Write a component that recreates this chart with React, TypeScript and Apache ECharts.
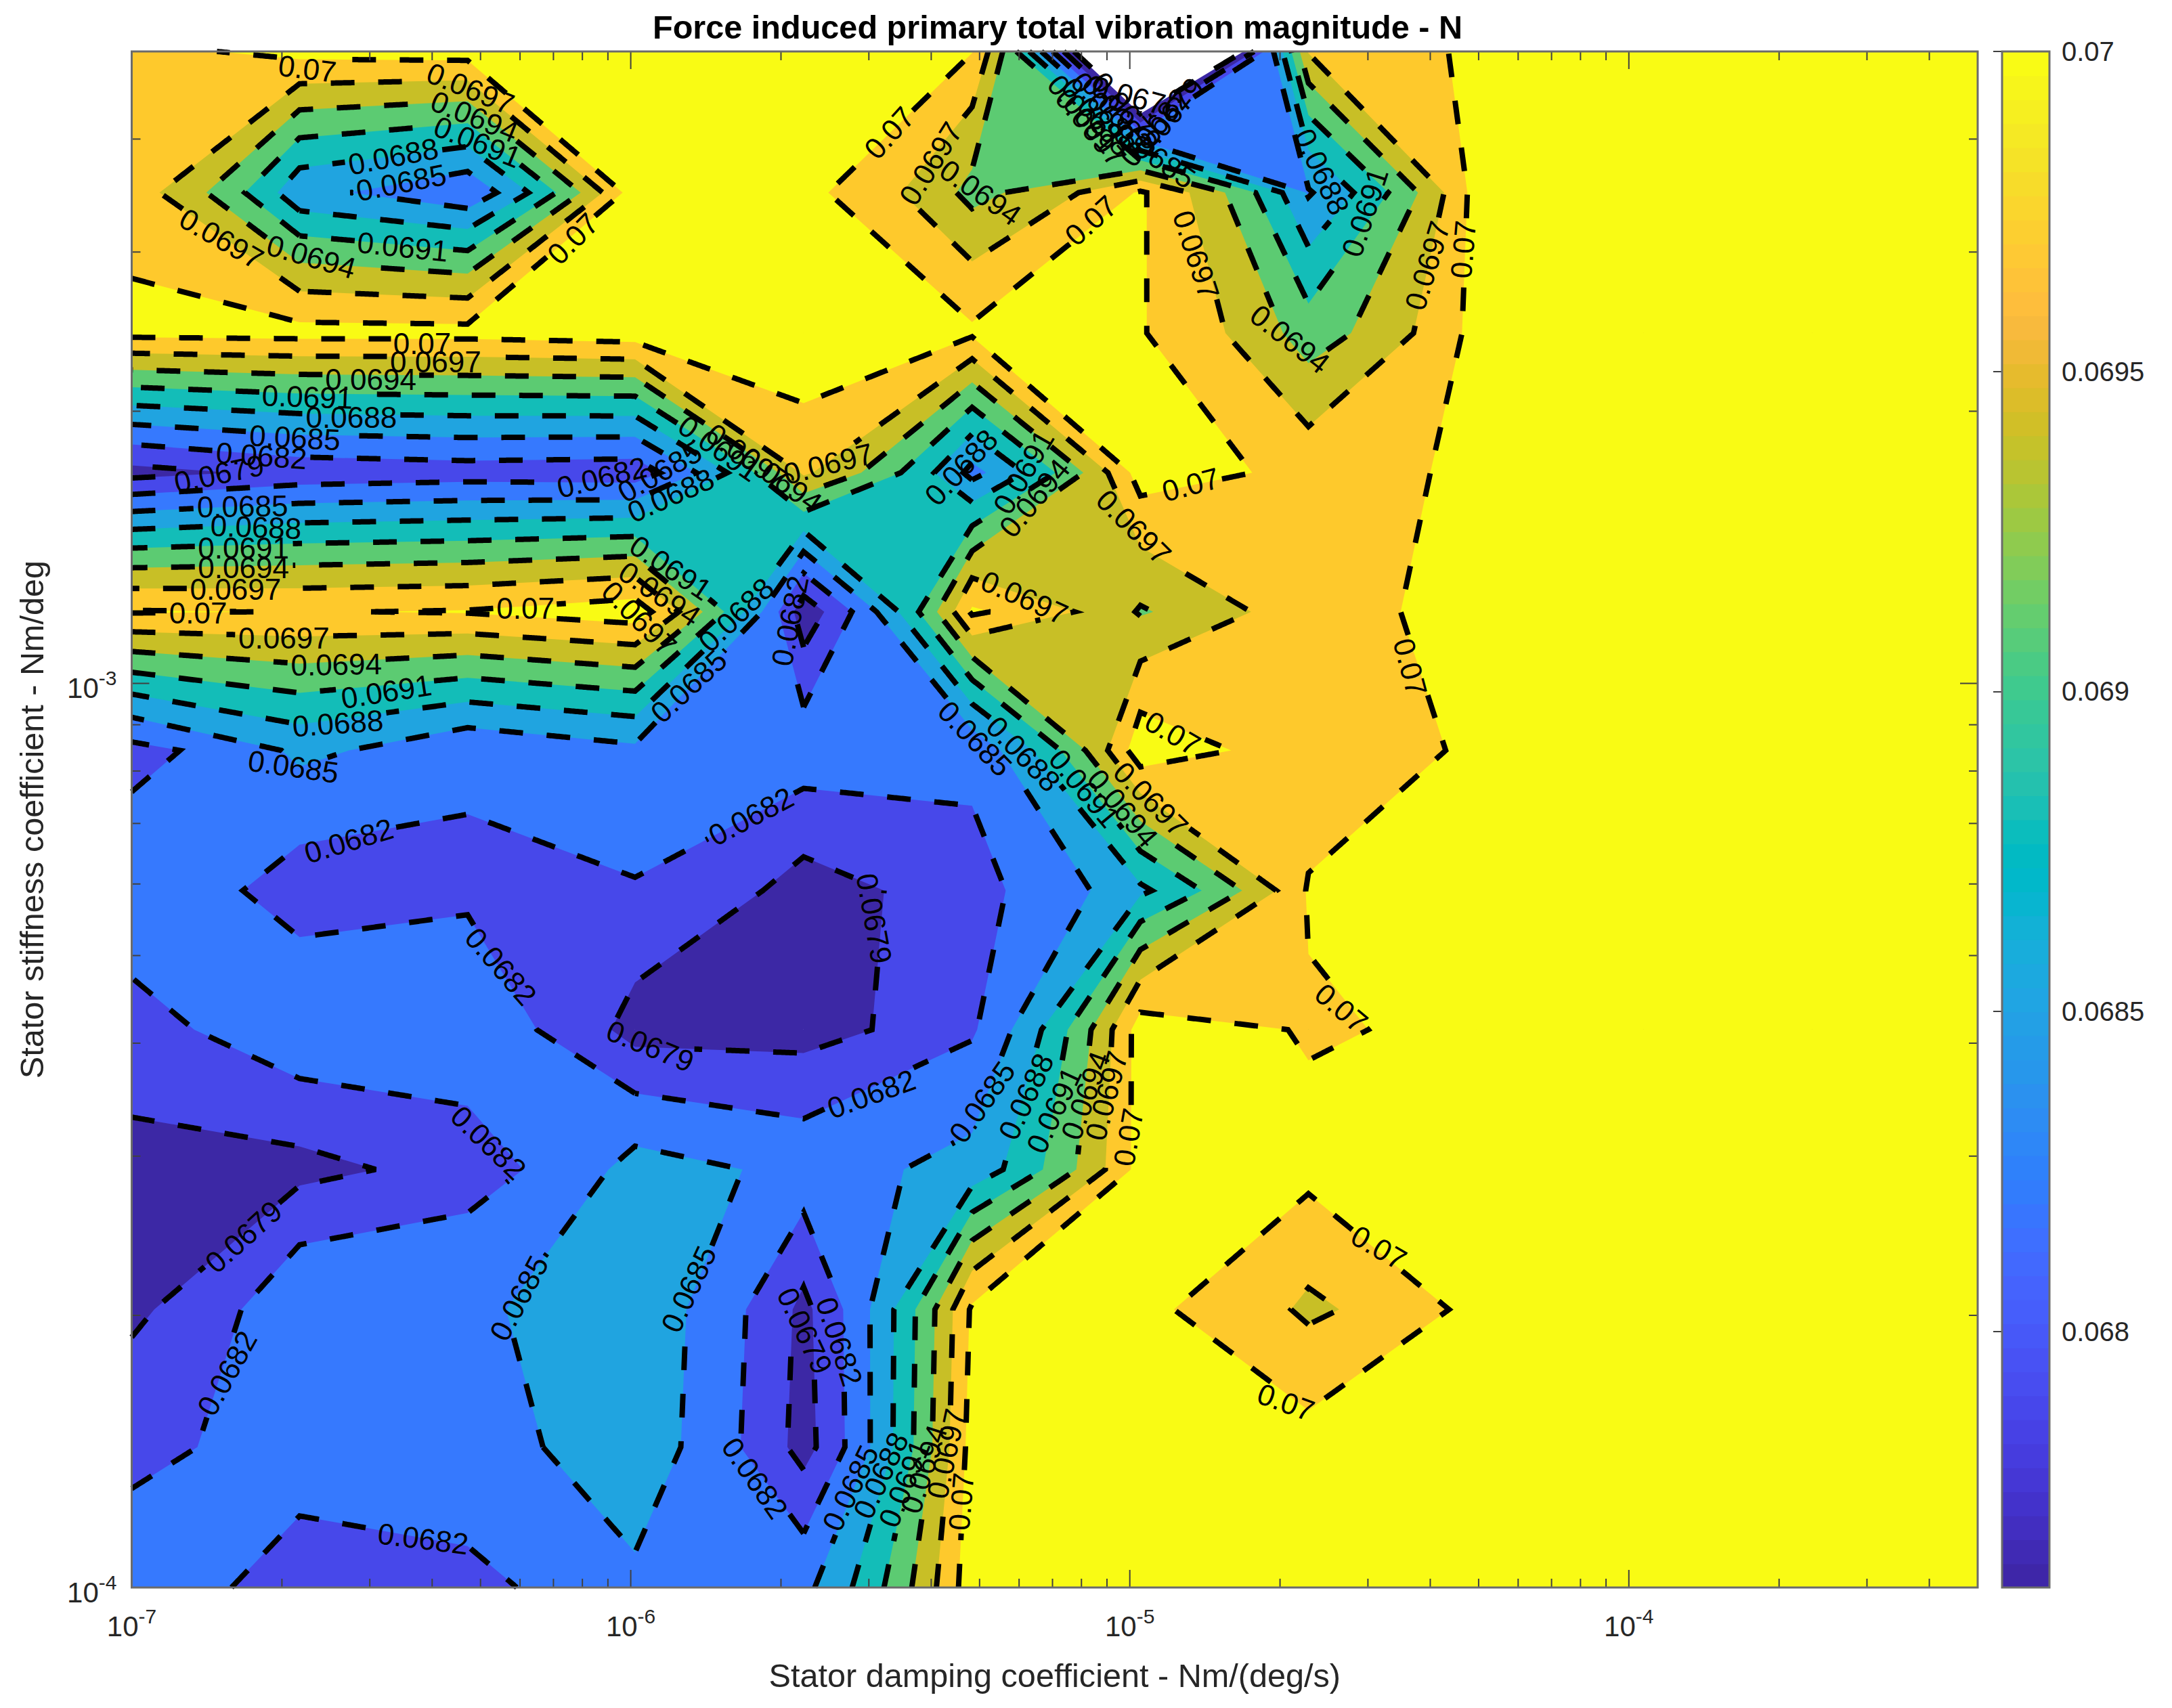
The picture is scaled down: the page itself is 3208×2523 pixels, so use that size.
import React, { useEffect, useRef } from "react";
import * as echarts from "echarts";

const FONT = "'Liberation Sans', Arial, sans-serif";

const TITLE = "Force induced primary total vibration magnitude - N";
const X_NAME = "Stator damping coefficient - Nm/(deg/s)";
const Y_NAME = "Stator stiffness coefficient - Nm/deg";

const xGrid = [1e-7, 2.17e-7, 4.71e-7, 1.02e-6, 2.22e-6, 4.83e-6, 1.05e-5, 2.28e-5, 4.94e-5, 1.07e-4, 2.33e-4, 5e-4];
const yGrid = [1e-4, 1.43e-4, 2.03e-4, 2.9e-4, 4.14e-4, 5.9e-4, 8.43e-4, 1.2e-3, 1.71e-3, 2.44e-3, 3.49e-3, 5e-3];

// One row per stiffness value, lowest first; one column per damping value.
const row0 = [0.0684, 0.068, 0.06813, 0.06845, 0.06842, 0.0702, 0.0705, 0.0705, 0.0706, 0.0706, 0.0707, 0.0707];
const row1 = [0.0681, 0.06843, 0.0684, 0.06868, 0.06778, 0.07013, 0.0705, 0.07011, 0.0705, 0.0706, 0.0706, 0.0707];
const row2 = [0.06784, 0.06848, 0.06846, 0.0687, 0.06782, 0.07005, 0.07006, 0.06964, 0.0701, 0.0705, 0.0706, 0.0706];
const row3 = [0.0678, 0.06781, 0.06806, 0.06862, 0.0684, 0.0686, 0.07012, 0.07009, 0.0705, 0.0705, 0.0706, 0.0706];
const row4 = [0.0681, 0.06845, 0.0684, 0.06778, 0.06778, 0.06816, 0.07015, 0.06997, 0.07008, 0.0705, 0.0705, 0.0706];
const row5 = [0.0684, 0.06805, 0.06815, 0.06818, 0.06777, 0.06811, 0.06874, 0.07003, 0.0705, 0.0705, 0.0706, 0.0706];
const row6 = [0.0681, 0.06857, 0.06825, 0.06843, 0.06839, 0.06827, 0.0702, 0.06975, 0.07008, 0.0705, 0.0705, 0.0706];
const row7 = [0.07002, 0.06999, 0.07002, 0.07017, 0.0677, 0.07005, 0.06937, 0.06995, 0.07006, 0.0704, 0.0705, 0.0705];
const row8 = [0.0678, 0.068, 0.06805, 0.06802, 0.06975, 0.0684, 0.07015, 0.06989, 0.07006, 0.0704, 0.0705, 0.0705];
const row9 = [0.07008, 0.0701, 0.0701, 0.07016, 0.0703, 0.07005, 0.07002, 0.06924, 0.0701, 0.0704, 0.0705, 0.0705];
const row10 = [0.06985, 0.06857, 0.06826, 0.0702, 0.07008, 0.0693, 0.07004, 0.06847, 0.07012, 0.0704, 0.0704, 0.0705];
const row11 = [0.06993, 0.0701, 0.07014, 0.0704, 0.0705, 0.07001, 0.0653, 0.06972, 0.07008, 0.0703, 0.0704, 0.0705];
const zValues = [row0, row1, row2, row3, row4, row5, row6, row7, row8, row9, row10, row11];

const levels = [0.0676, 0.0679, 0.0682, 0.0685, 0.0688, 0.0691, 0.0694, 0.0697, 0.07];
const bandColors = ["#3C28A5", "#4748EA", "#3679FE", "#20A4E0", "#13BDB8", "#5CCB72", "#C8BF26", "#FEC92C", "#F9FB14"];

const colorbarTicks = [0.068, 0.0685, 0.069, 0.0695, 0.07];
const xMajorTicks = [1e-6, 1e-5, 1e-4];
const xMinorTicks = [
  2e-7, 3e-7, 4e-7, 5e-7, 6e-7, 7e-7, 8e-7, 9e-7,
  2e-6, 3e-6, 4e-6, 5e-6, 6e-6, 7e-6, 8e-6, 9e-6,
  2e-5, 3e-5, 4e-5, 5e-5, 6e-5, 7e-5, 8e-5, 9e-5,
  2e-4, 3e-4, 4e-4,
];
const yMajorTicks = [1e-3];
const yMinorTicks = [2e-4, 3e-4, 4e-4, 5e-4, 6e-4, 7e-4, 8e-4, 9e-4, 2e-3, 3e-3, 4e-3];

// level text, log10(x), log10(y), angle in degrees
const contourLabels: [string, number, number, number][] = [
  ["0.07", -6.648, -2.32, -7], ["0.0697", -6.321, -2.342, -22], ["0.0694", -6.313, -2.373, -22], ["0.0691", -6.307, -2.401, -22],
  ["0.0688", -6.476, -2.417, 11], ["0.0685", -6.46, -2.446, 11], ["0.0691", -6.457, -2.517, -6], ["0.0694", -6.64, -2.528, -16],
  ["0.0697", -6.82, -2.508, -30], ["0.07", -6.116, -2.508, 45], ["0.07", -6.418, -2.624, 0], ["0.0697", -6.391, -2.644, 0],
  ["0.0694", -6.521, -2.664, 0], ["0.0691", -6.648, -2.683, -2], ["0.0688", -6.56, -2.706, 0], ["0.0685", -6.673, -2.728, -3],
  ["0.0682", -6.74, -2.748, -4], ["0.0679", -6.825, -2.768, 12], ["0.0685", -6.778, -2.804, 1], ["0.0688", -6.751, -2.827, -2],
  ["0.0691", -6.776, -2.85, 0], ["0.0694", -6.776, -2.872, 0], ["0.0697", -6.792, -2.896, 0], ["0.07", -6.867, -2.922, 0],
  ["0.07", -6.211, -2.917, 0], ["0.0697", -6.695, -2.95, 0], ["0.0694", -6.59, -2.979, 1], ["0.0691", -6.49, -3.009, 9],
  ["0.0688", -6.587, -3.044, 4], ["0.0685", -6.676, -3.092, -8], ["0.0682", -6.058, -2.772, 14], ["0.0685", -5.942, -2.766, 30],
  ["0.0688", -5.92, -2.792, 24], ["0.0691", -5.823, -2.74, -35], ["0.0697", -5.767, -2.749, -35], ["0.0694", -5.698, -2.775, -35],
  ["0.0697", -5.604, -2.757, 14], ["0.0691", -5.92, -2.872, -34], ["0.0694", -5.942, -2.901, -34], ["0.0697", -5.983, -2.928, -45],
  ["0.0688", -5.789, -2.924, 44], ["0.0685", -5.884, -3.003, 43], ["0.0682", -5.681, -2.931, 79], ["0.0688", -5.338, -2.761, 47],
  ["0.0691", -5.213, -2.766, 60], ["0.0694", -5.191, -2.795, 50], ["0.0697", -4.992, -2.827, -45], ["0.0697", -5.211, -2.905, -24],
  ["0.07", -4.878, -2.78, 15], ["0.07", -4.914, -3.055, -30], ["0.0685", -5.31, -3.061, -46], ["0.0688", -5.213, -3.078, -46],
  ["0.0691", -5.091, -3.116, -50], ["0.0694", -5.014, -3.138, -50], ["0.0697", -4.958, -3.128, -45], ["0.0682", -5.759, -3.147, 28],
  ["0.0679", -5.512, -3.26, -80], ["0.0682", -6.565, -3.174, 17], ["0.0682", -6.26, -3.313, -49], ["0.0682", -6.285, -3.508, -44],
  ["0.0679", -5.961, -3.401, -22], ["0.0682", -5.518, -3.454, 20], ["0.0685", -5.296, -3.463, 55], ["0.0688", -5.208, -3.457, 65],
  ["0.0691", -5.152, -3.472, 65], ["0.0694", -5.089, -3.456, 70], ["0.0697", -5.047, -3.456, 75], ["0.07", -5.003, -3.502, 80],
  ["0.0679", -6.776, -3.612, 42], ["0.0682", -6.809, -3.763, 61], ["0.0685", -6.224, -3.68, 62], ["0.0685", -5.884, -3.67, 65],
  ["0.0682", -6.416, -3.946, -7], ["0.0682", -5.751, -3.879, -55], ["0.0679", -5.651, -3.716, -65], ["0.0682", -5.582, -3.728, -72],
  ["0.0685", -5.56, -3.89, 64], ["0.0688", -5.499, -3.876, 65], ["0.0691", -5.452, -3.885, 68], ["0.0694", -5.413, -3.869, 72],
  ["0.0697", -5.368, -3.852, 78], ["0.07", -5.338, -3.905, 85], ["0.07", -5.482, -2.391, 48], ["0.0697", -5.399, -2.425, 58],
  ["0.0694", -5.299, -2.457, -35], ["0.07", -5.078, -2.488, 42], ["0.0697", -4.867, -2.526, -72], ["0.0694", -4.679, -2.619, -38],
  ["0.0688", -4.615, -2.434, -65], ["0.0691", -4.529, -2.479, 72], ["0.0697", -4.404, -2.538, 73], ["0.07", -4.332, -2.52, 85],
  ["0.07", -4.576, -3.359, -40], ["0.07", -4.501, -3.624, -30], ["0.07", -4.687, -3.795, -20], ["0.07", -4.438, -2.982, -75],
  ["0.0697", -5.078, -2.385, -50], ["0.0685", -4.95, -2.416, -35], ["0.0691", -5.094, -2.37, -50], ["0.0688", -5.066, -2.373, -50],
  ["0.0685", -5.047, -2.367, -50], ["0.0682", -5.025, -2.37, -50], ["0.0679", -5.006, -2.367, -50], ["0.0676", -4.986, -2.352, -15],
  ["0.0679", -4.922, -2.373, 50], ["0.0682", -4.95, -2.385, 50],
];

const parula = [
  [0.2422, 0.1504, 0.6603], [0.2504, 0.165, 0.7076], [0.2578, 0.1818, 0.7511], [0.2647, 0.1978, 0.7952], [0.2706, 0.2147, 0.8364], [0.2751, 0.2342, 0.871], [0.2783, 0.2559, 0.8991], [0.2803, 0.2782, 0.9221],
  [0.2813, 0.3006, 0.9414], [0.281, 0.3228, 0.9579], [0.2795, 0.3447, 0.9717], [0.276, 0.3667, 0.9829], [0.2699, 0.3892, 0.9906], [0.2602, 0.4123, 0.9952], [0.244, 0.4358, 0.9988], [0.2206, 0.4603, 0.9973],
  [0.1963, 0.4847, 0.9892], [0.1834, 0.5074, 0.9798], [0.1786, 0.5289, 0.9682], [0.1764, 0.5499, 0.952], [0.1687, 0.5703, 0.9359], [0.154, 0.5902, 0.9218], [0.146, 0.6091, 0.9079], [0.138, 0.6276, 0.8973],
  [0.1248, 0.6459, 0.8883], [0.1113, 0.6635, 0.8763], [0.0952, 0.6798, 0.8598], [0.0689, 0.6948, 0.8394], [0.0297, 0.7082, 0.8163], [0.0036, 0.7203, 0.7917], [0.0067, 0.7312, 0.766], [0.0433, 0.7411, 0.7394],
  [0.0964, 0.75, 0.712], [0.1408, 0.7584, 0.6842], [0.1717, 0.767, 0.6554], [0.1938, 0.7758, 0.6251], [0.2161, 0.7843, 0.5923], [0.247, 0.7918, 0.5567], [0.2906, 0.7973, 0.5188], [0.3406, 0.8008, 0.4789],
  [0.3909, 0.8029, 0.4354], [0.4456, 0.8024, 0.3909], [0.5044, 0.7993, 0.348], [0.5616, 0.7942, 0.3045], [0.6174, 0.7876, 0.2612], [0.672, 0.7793, 0.2227], [0.7242, 0.7698, 0.191], [0.7738, 0.7598, 0.1646],
  [0.8203, 0.7498, 0.1535], [0.8634, 0.7406, 0.1596], [0.9035, 0.733, 0.1774], [0.9393, 0.7288, 0.21], [0.9728, 0.7298, 0.2394], [0.9956, 0.7434, 0.2371], [0.997, 0.7659, 0.2199], [0.9952, 0.7893, 0.2028],
  [0.9892, 0.8136, 0.1885], [0.9786, 0.8386, 0.1766], [0.9676, 0.8639, 0.1643], [0.961, 0.889, 0.1537], [0.9597, 0.9135, 0.1423], [0.9628, 0.9373, 0.1265], [0.9691, 0.9606, 0.1064], [0.9769, 0.9839, 0.0805],
];

const CB_MIN = 0.0676;
const CB_MAX = 0.07;

type Pt = [number, number];

// Marching squares on the grid, interpolating in data space.
function contourGeometry(level: number) {
  const polys: Pt[][] = [];
  const segs: { a: string; b: string; pa: Pt; pb: Pt }[] = [];
  const cross = (i1: number, j1: number, i2: number, j2: number): { k: string; p: Pt } => {
    const v1 = zValues[j1][i1];
    const v2 = zValues[j2][i2];
    const t = (level - v1) / (v2 - v1);
    const k = i1 < i2 || j1 < j2 ? `${i1},${j1},${i2},${j2}` : `${i2},${j2},${i1},${j1}`;
    return { k, p: [xGrid[i1] + t * (xGrid[i2] - xGrid[i1]), yGrid[j1] + t * (yGrid[j2] - yGrid[j1])] };
  };
  for (let j = 0; j < yGrid.length - 1; j++) {
    for (let i = 0; i < xGrid.length - 1; i++) {
      const c = [[i, j], [i + 1, j], [i + 1, j + 1], [i, j + 1]];
      const vals = c.map(([a, b]) => zValues[b][a]);
      const ins = vals.map((v) => v >= level);
      const n = ins.filter(Boolean).length;
      if (n === 0) continue;
      const saddle = n === 2 && ins[0] === ins[2];
      const centre = (vals[0] + vals[1] + vals[2] + vals[3]) / 4;
      const corner = (k: number): Pt => [xGrid[c[k][0]], yGrid[c[k][1]]];
      if (saddle && centre < level) {
        for (let k = 0; k < 4; k++) {
          if (!ins[k]) continue;
          const nx = (k + 1) % 4;
          const pv = (k + 3) % 4;
          const a = cross(c[k][0], c[k][1], c[nx][0], c[nx][1]);
          const b = cross(c[pv][0], c[pv][1], c[k][0], c[k][1]);
          polys.push([corner(k), a.p, b.p]);
          segs.push({ a: a.k, b: b.k, pa: a.p, pb: b.p });
        }
        continue;
      }
      const poly: Pt[] = [];
      const events: { out: boolean; k: string; p: Pt }[] = [];
      for (let k = 0; k < 4; k++) {
        const nx = (k + 1) % 4;
        if (ins[k]) poly.push(corner(k));
        if (ins[k] !== ins[nx]) {
          const e = cross(c[k][0], c[k][1], c[nx][0], c[nx][1]);
          poly.push(e.p);
          events.push({ out: ins[k], k: e.k, p: e.p });
        }
      }
      polys.push(poly);
      events.forEach((e, idx) => {
        if (!e.out) return;
        const f = events[(idx + 1) % events.length];
        segs.push({ a: e.k, b: f.k, pa: e.p, pb: f.p });
      });
    }
  }
  // chain segments into polylines
  const byKey: Record<string, number[]> = {};
  segs.forEach((s, idx) => {
    (byKey[s.a] = byKey[s.a] || []).push(idx);
    (byKey[s.b] = byKey[s.b] || []).push(idx);
  });
  const used = segs.map(() => false);
  const lines: Pt[][] = [];
  const walk = (start: number, fromKey: string) => {
    const line: Pt[] = [];
    let cur = start;
    let key = fromKey;
    let s = segs[cur];
    line.push(s.a === key ? s.pa : s.pb);
    while (cur >= 0 && !used[cur]) {
      used[cur] = true;
      s = segs[cur];
      const nextKey = s.a === key ? s.b : s.a;
      line.push(s.a === key ? s.pb : s.pa);
      key = nextKey;
      const cands = byKey[key].filter((q) => !used[q]);
      cur = cands.length ? cands[0] : -1;
    }
    lines.push(line);
  };
  Object.keys(byKey).forEach((k) => {
    if (byKey[k].length === 1 && !used[byKey[k][0]]) walk(byKey[k][0], k);
  });
  segs.forEach((s, idx) => {
    if (!used[idx]) walk(idx, s.a);
  });
  return { polys, lines };
}

const geometry = levels.map(contourGeometry);

const LABEL_FONT = 44;
const labelHalfWidth = (t: string) => (t.length === 4 ? 46 : 71);

function breakLine(px: Pt[], boxes: { x: number; y: number; cos: number; sin: number; hw: number }[]): Pt[][] {
  const out: Pt[][] = [];
  let cur: Pt[] = [];
  const inside = (p: Pt) =>
    boxes.some((b) => {
      const dx = p[0] - b.x;
      const dy = p[1] - b.y;
      const u = dx * b.cos + dy * b.sin;
      const v = -dx * b.sin + dy * b.cos;
      return Math.abs(u) < b.hw && Math.abs(v) < 20;
    });
  for (let i = 0; i + 1 < px.length; i++) {
    const [x1, y1] = px[i];
    const [x2, y2] = px[i + 1];
    const len = Math.hypot(x2 - x1, y2 - y1);
    const steps = Math.max(1, Math.ceil(len / 2));
    for (let s = 0; s <= steps; s++) {
      if (s === 0 && i > 0) continue;
      const t = s / steps;
      const p: Pt = [x1 + t * (x2 - x1), y1 + t * (y2 - y1)];
      if (inside(p)) {
        if (cur.length > 1) out.push(cur);
        cur = [];
      } else {
        cur.push(p);
      }
    }
  }
  if (cur.length > 1) out.push(cur);
  return out;
}

export default function App() {
  const ref = useRef<HTMLDivElement>(null);
  useEffect(() => {
    const chart = echarts.init(ref.current!, undefined, { renderer: "svg" });
    const tickLabel = (v: number) => {
      const e = Math.log10(v);
      if (Math.abs(e - Math.round(e)) > 1e-6) return "";
      return `{b|10}{s|${Math.round(e)}}`;
    };
    const richTick = {
      b: { fontSize: 42, fontFamily: FONT, color: "#262626", padding: [14, 0, 0, 0] },
      s: { fontSize: 30, fontFamily: FONT, color: "#262626", padding: [0, 0, 16, 0] },
    };
    const xMin = xGrid[0];
    const yMin = yGrid[0];
    const levelData = levels.map((_, i) => [xMin, yMin, i]);
    const tickData = [
      ...xMajorTicks.map((v) => [v, yMin, 0, 26]),
      ...xMinorTicks.map((v) => [v, yMin, 0, 13]),
      ...yMajorTicks.map((v) => [xMin, v, 1, 26]),
      ...yMinorTicks.map((v) => [xMin, v, 1, 13]),
    ];
    const option: any = {
      animation: false,
      backgroundColor: "#ffffff",
      title: {
        text: TITLE,
        left: 1557,
        top: 10,
        textAlign: "center",
        textStyle: { fontSize: 48.6, fontWeight: "bold", fontFamily: FONT, color: "#000000" },
      },
      grid: [
        { left: 194.5, top: 76, width: 2726.5, height: 2269 },
        { left: 2957, top: 76, width: 70, height: 2269 },
      ],
      xAxis: [
        {
          type: "log", gridIndex: 0, min: 1e-7, max: 5e-4, logBase: 10,
          name: X_NAME, nameLocation: "middle", nameGap: 105,
          nameTextStyle: { fontSize: 48.6, fontFamily: FONT, color: "#262626" },
          axisLine: { show: false }, axisTick: { show: false }, splitLine: { show: false }, minorTick: { show: false },
          axisLabel: { formatter: tickLabel, rich: richTick, margin: 22, showMinLabel: true, showMaxLabel: true, hideOverlap: false },
        },
        { type: "value", gridIndex: 1, min: 0, max: 1, show: false },
      ],
      yAxis: [
        {
          type: "log", gridIndex: 0, min: 1e-4, max: 5e-3, logBase: 10,
          name: Y_NAME, nameLocation: "middle", nameGap: 123,
          nameTextStyle: { fontSize: 48.6, fontFamily: FONT, color: "#262626" },
          axisLine: { show: false }, axisTick: { show: false }, splitLine: { show: false }, minorTick: { show: false },
          axisLabel: { formatter: tickLabel, rich: richTick, margin: 22, showMinLabel: true, showMaxLabel: true, hideOverlap: false },
        },
        {
          type: "value", gridIndex: 1, min: CB_MIN, max: CB_MAX, position: "right",
          axisLine: { show: false }, splitLine: { show: false },
          axisTick: { show: true, inside: true, length: 13, customValues: colorbarTicks, lineStyle: { color: "#404040", width: 2 } },
          axisLabel: {
            customValues: colorbarTicks, margin: 18, fontSize: 40, fontFamily: FONT, color: "#262626",
            formatter: (v: number) => String(Number(v.toFixed(4))),
          },
        },
      ],
      series: [
        {
          type: "custom", name: "bands", xAxisIndex: 0, yAxisIndex: 0, silent: true, z: 1,
          encode: { x: 0, y: 1 }, data: levelData,
          renderItem: (_p: any, api: any) => {
            const idx = api.value(2);
            let d = "";
            geometry[idx].polys.forEach((poly) => {
              poly.forEach((pt, q) => {
                const c = api.coord(pt);
                d += `${q === 0 ? "M" : "L"}${c[0].toFixed(2)} ${c[1].toFixed(2)}`;
              });
              d += "Z";
            });
            return { type: "path", shape: { pathData: d }, style: { fill: bandColors[idx], stroke: "none" } };
          },
        },
        {
          type: "custom", name: "contours", xAxisIndex: 0, yAxisIndex: 0, silent: true, z: 2,
          encode: { x: 0, y: 1 }, data: levelData,
          renderItem: (_p: any, api: any) => {
            const idx = api.value(2);
            const boxes = contourLabels
              .filter((l) => Math.abs(Number(l[0]) - levels[idx]) < 1e-7)
              .map((l) => {
                const c = api.coord([Math.pow(10, l[1]), Math.pow(10, l[2])]);
                const a = (l[3] * Math.PI) / 180;
                return { x: c[0], y: c[1], cos: Math.cos(a), sin: -Math.sin(a), hw: labelHalfWidth(l[0]) };
              });
            const children: any[] = [];
            geometry[idx].lines.forEach((line) => {
              const px: Pt[] = line.map((p) => api.coord(p));
              breakLine(px, boxes).forEach((run) => {
                children.push({
                  type: "polyline",
                  shape: { points: run },
                  style: { fill: "none", stroke: "#000000", lineWidth: 8, lineDash: [35, 35], lineJoin: "miter" },
                });
              });
            });
            return { type: "group", children };
          },
        },
        {
          type: "custom", name: "ticks", xAxisIndex: 0, yAxisIndex: 0, silent: true, z: 3,
          encode: { x: 0, y: 1 }, data: tickData,
          renderItem: (params: any, api: any) => {
            const c = api.coord([api.value(0), api.value(1)]);
            const len = api.value(3);
            const g = params.coordSys;
            const style = { stroke: "#404040", lineWidth: 2 };
            if (api.value(2) === 0) {
              return {
                type: "group",
                children: [
                  { type: "line", shape: { x1: c[0], y1: g.y + g.height, x2: c[0], y2: g.y + g.height - len }, style },
                  { type: "line", shape: { x1: c[0], y1: g.y, x2: c[0], y2: g.y + len }, style },
                ],
              };
            }
            return {
              type: "group",
              children: [
                { type: "line", shape: { x1: g.x, y1: c[1], x2: g.x + len, y2: c[1] }, style },
                { type: "line", shape: { x1: g.x + g.width, y1: c[1], x2: g.x + g.width - len, y2: c[1] }, style },
              ],
            };
          },
        },
        {
          type: "custom", name: "frame", xAxisIndex: 0, yAxisIndex: 0, silent: true, z: 4, clip: false,
          encode: { x: 0, y: 1 }, data: [[xMin, yMin]],
          renderItem: (params: any) => {
            const g = params.coordSys;
            return {
              type: "rect",
              shape: { x: g.x, y: g.y, width: g.width, height: g.height },
              style: { fill: "none", stroke: "#6b6b6b", lineWidth: 3 },
            };
          },
        },
        {
          type: "custom", name: "labels", xAxisIndex: 0, yAxisIndex: 0, silent: true, z: 5,
          encode: { x: 0, y: 1 },
          data: contourLabels.map((l, i) => [Math.pow(10, l[1]), Math.pow(10, l[2]), i]),
          renderItem: (_p: any, api: any) => {
            const l = contourLabels[api.value(2)];
            const c = api.coord([api.value(0), api.value(1)]);
            return {
              type: "text",
              x: c[0],
              y: c[1],
              rotation: (l[3] * Math.PI) / 180,
              style: { text: l[0], fontSize: LABEL_FONT, fontFamily: FONT, fill: "#000000", align: "center", verticalAlign: "middle" },
            };
          },
        },
        {
          type: "custom", name: "colorbar", xAxisIndex: 1, yAxisIndex: 1, silent: true, z: 1,
          encode: { x: 0, y: 1 },
          data: parula.map((_, i) => [0.5, CB_MIN + ((i + 0.5) * (CB_MAX - CB_MIN)) / parula.length, i]),
          renderItem: (_p: any, api: any) => {
            const i = api.value(2);
            const step = (CB_MAX - CB_MIN) / parula.length;
            const a = api.coord([0, CB_MIN + i * step]);
            const b = api.coord([1, CB_MIN + (i + 1) * step]);
            const [r, g, bl] = parula[i];
            return {
              type: "rect",
              shape: { x: a[0], y: b[1], width: b[0] - a[0], height: a[1] - b[1] + (i === 0 ? 0 : 1) },
              style: { fill: `rgb(${Math.round(r * 255)},${Math.round(g * 255)},${Math.round(bl * 255)})` },
            };
          },
        },
        {
          type: "custom", name: "colorbarFrame", xAxisIndex: 1, yAxisIndex: 1, silent: true, z: 4, clip: false,
          encode: { x: 0, y: 1 }, data: [[0, CB_MIN]],
          renderItem: (params: any) => {
            const g = params.coordSys;
            return {
              type: "rect",
              shape: { x: g.x, y: g.y, width: g.width, height: g.height },
              style: { fill: "none", stroke: "#6b6b6b", lineWidth: 3 },
            };
          },
        },
      ],
    };
    chart.setOption(option);
    return () => chart.dispose();
  }, []);
  return <div ref={ref} style={{ position: "absolute", left: 0, top: 0, width: 3208, height: 2523 }} />;
}
